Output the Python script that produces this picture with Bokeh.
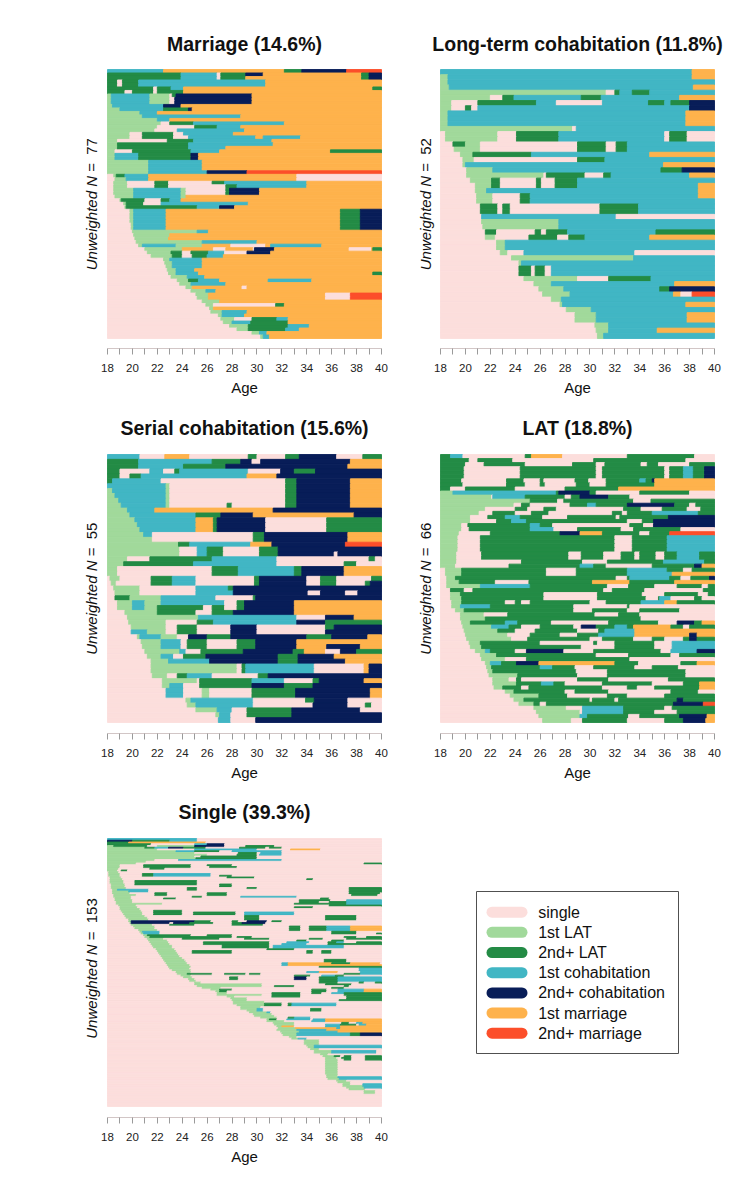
import math
from bokeh.plotting import figure
from bokeh.models import Range1d, FixedTicker, ColumnDataSource
from bokeh.layouts import row, column
from bokeh.embed import file_html
from bokeh.resources import INLINE
from bokeh.core.properties import value

# ---------------- states ----------------
STATE_CODES = ["s", "l", "L", "c", "C", "m", "M"]
STATE_LABELS = ["single", "1st LAT", "2nd+ LAT", "1st cohabitation",
                "2nd+ cohabitation", "1st marriage", "2nd+ marriage"]
STATE_COLORS = ["#FCDEDC", "#A1D99B", "#238B45", "#41B6C4",
                "#081D58", "#FEB24C", "#FC4E2A"]
AGE_MIN, AGE_MAX = 18, 40
AGE_MAJOR = list(range(18, 41, 2))
AGE_MINOR = list(range(19, 40, 2))

# each sequence: tokens "<state><start age>", state lasts until next token (or 40)
MARRIAGE = [
    "c18 m22.5 L32.2 C33.6 M37.2",
    "L18 c23.9 s26.8 L27.1 C29.1 m30.5 L38.4 C39",
    "L18 c23.9 s26.8 L27.1 m29.1 L38.4 C39",
    "L18 s18.8 L19.2 c20.5 m30.7",
    "L18 s18.8 L19.2 c20.5 m30.7",
    "L18 s21.7 L22 c23.1 m24.1 L39.3",
    "L18 s19.4 L20 s21.7 L22 m24.1",
    "l18 c18.3 l21.4 s23 L23.2 C23.5 m29.6",
    "l18 c18.3 l21.4 s23 C23.4 m29.6",
    "l18 c18.3 l21.4 s23 C23.4 m29.6",
    "l18 c18.4 C22.5 m23.9",
    "l18 c19 L22.5 C24.5 m24.8",
    "l18 c20.6 m22",
    "l18 c20.8 m28.7",
    "l18 c22 m23",
    "l18 s22.3 L23 c24.9 m32.2",
    "l18 s22 L25 c26.8 m28.7",
    "l18 s21.8 c23.6 m29",
    "l18 s19.8 L20.8 s23.3 c24.1 m28.1",
    "l18 s19.8 L20.8 s23.3 c24.5 m29.9 c30.5 m33.5",
    "l18 s18.8 L22.8 c24.9 m31.2",
    "l18 L18.8 c24.5 m31.3",
    "l18 L18.8 c24.5 m27.5",
    "l18 s18.6 L20 c24.7 m27 L35.9",
    "l18 c18.6 L20.5 C24.7 m25.3",
    "l18 c18.6 L20.5 C24.7 m25.3",
    "l18 c21.3 m25.6",
    "l18 c21.3 m25.6",
    "l18 c21.3 m25.6",
    "l18 c21.3 C26 M29.2",
    "s18 l18.5 L18.7 c19.4 m21.3 s33.2",
    "s18 l18.6 c19.5 m21.3 s33.2",
    "s18 l18.5 s19.6 L21.8 s22.9 L26.4 c27.4 m34",
    "s18 l18.5 s19.6 L21.8 s22.9 L27.5 c28.4 m34",
    "s18 l18.5 c20.1 l23.9 s24.3 L27.5 C27.8 m30.2",
    "s18 l18.5 c20.1 l23.9 s24.3 L27.5 C27.8 m30.2",
    "s18 l18.6 c20.1 l23.9 m24.3",
    "s18 l19 L19.1 s21 L22.3 c23 m23.9",
    "s18 l19.3 L19.5 s20.9 c22.3 m29.3",
    "s18 l19.4 L19.5 c25.2 C27 m28.2",
    "s18 l19.8 c20.1 m22.7 L36.7 C38.3",
    "s18 l19.8 c20.1 m22.7 L36.7 C38.3",
    "s18 l19.8 c20.1 m22.7 L36.7 C38.3",
    "s18 l19.8 c20.1 m22.7 L36.7 C38.3",
    "s18 l19.9 c20.1 m22.7 L36.7 C38.3",
    "s18 l19.9 c20.1 m22.7 L36.7 C38.3",
    "s18 l20 c25.2 m26.1",
    "s18 l20.1 m23",
    "s18 l20.2 m22.9",
    "s18 l20.3 c25.6 m30",
    "s18 l20.5 c20.8 l23.5 m25.6 s27.9 m30.7 c31.1 m35.2",
    "s18 l21 m24 s26.5 m27.5 s29.7 C29.8 m31.4 s37.4 m39.2 L39.3",
    "s18 l21.2 L23.1 s24 L24.7 c26.1 s27.4 C29.2 m31.1",
    "s18 l21.5 L23.2 s24 L24.8 c26 m27.3",
    "s18 l22.5 c23 m25.6",
    "s18 l22.6 c23.2 m25.6",
    "s18 l22.7 c23.2 m25.6",
    "s18 l22.8 c23.5 m25",
    "s18 l22.9 c23.5 m25.3 L39.3",
    "s18 l23.1 c24.4 m25.8",
    "s18 l23.6 L24.5 c25.3 m27 c30.9 m34.4",
    "s18 l23.8 c24.7 m27.5",
    "s18 l24.3 m24.8 s28.8 m29.2",
    "s18 l24.7 c25.9 m26.7",
    "s18 l25.1 m26.1 s35.5 M37.5",
    "s18 l25.2 m26.1 s35.5 M37.5",
    "s18 l25.6 m27",
    "s18 l25.9 s26.5 L31.5 m32.2",
    "s18 l26.2 m26.5",
    "s18 l26.3 c27.2 m29.2",
    "s18 l26.9 c27.2 m29",
    "s18 l27.1 s28.2 L29.6 c31.6 m32.5",
    "s18 l27.3 c28 L29.5 m32.5",
    "s18 l27.8 L29.3 c32.5 m34.2",
    "s18 l28.4 L29.3 c32.3 m33.4",
    "s18 l29.6 c30.2 m30.8",
    "s18 l30.3 c30.5 m31",
]

LONG_COHAB = [
    "c18 m38.2",
    "l18 c18.6 m38.2",
    "l18 c18.6",
    "l18 c18.7 m38.3",
    "l18 s31.3 L32 c32.4 L33.4 c34.8",
    "l18 s22 L23 c23.9 L29.3 c30.9 m37.2",
    "l18 s18.9 L21 c25.7 s27.3 c31 L34.7 c36 L36.5 C38",
    "l18 s18.9 L20 s20.5 c21 C38",
    "l18 c18.6 m37.7",
    "l18 c18.6 m37.7",
    "l18 c18.6 m37.7",
    "l18 s28.6 c28.9",
    "s18 l18.4 s22.6 L24.1 c27.5 s36 L36.4 s37.8",
    "s18 l18.4 s22.6 L24.1 c27.5 s36 L36.4 s37.8",
    "s18 L19 l20 s21.2 L29 s31.3 L32.1 c33",
    "s18 l19.1 s21.2 L29 s31.3 L32.1 c33",
    "s18 l19.6 L20.6 c25.3 m34.8",
    "s18 l19.8 s20.7 L29 c31.2",
    "s18 l19.8 c20 m35.9",
    "s18 l20.1 c22.2 L35.7 C37.4",
    "s18 l20.1 s26.3 L26.5 s29.6 L31.1 c31.7 m38",
    "s18 l20.4 L22.1 s22.8 L25.7 s26.1 L27.2 c29",
    "s18 l20.8 L22.1 s22.8 L25.7 s26.1 L27.2 c29 m38.7",
    "s18 l20.8 c21.7 m38.7",
    "s18 l20.9 s22.2 L24.4 c25.2 m38.7",
    "s18 l20.9 s22.2 L24.4 c25.2",
    "s18 L21.2 s22.6 L23 s23.6 L30.8 c33.9",
    "s18 L21.2 s22.6 L23 s23.6 L30.8 c33.9",
    "s18 c21.3 s32.1",
    "s18 l21.3 c27.5",
    "s18 l21.4 c27.5",
    "s18 L21.6 s22.5 L25.6 s26.1 L26.5 c28.2 L35.3",
    "s18 l21.6 s22.4 L25.1 s27.4 L28.3 c29.6 m34.8",
    "s18 l22.5 c23.2",
    "s18 l22.5 c23.2",
    "s18 l22.8 s23.4 c24.7 s33.6",
    "s18 l23.7 c33.5",
    "s18 l24.3 c24.5",
    "s18 L24.3 s25.3 L25.6 s26.4 c26.9",
    "s18 L24.3 s25.3 L25.6 s26.4 c26.9",
    "s18 l24.7 s29 L31.5 c34.9",
    "s18 l25.5 c26.9 m36.8",
    "s18 l25.9 c27.9 L35.6 C36.4",
    "s18 l26.2 c28.4 m36.7 s37.3 M38.2",
    "s18 l26.9 c27.7",
    "s18 l27.6 c27.8 m37.7",
    "s18 l28.1 c30.1",
    "s18 l28.8 c30.5 m37.8",
    "s18 l28.8 c30.5 m37.8",
    "s18 l30.4 c31.5",
    "s18 l30.5 c31.5 m35.4",
    "s18 l30.6 c31.1",
]

SERIAL_COHAB = [
    "c18 s20.6 m22.6 s24.6 L29.3 s30 L32.3 C33.4 s36.4 L38.5",
    "L18 c20.5 L26.4 C28.7 s29.6 C30.3 m37.5",
    "L18 c20.5 L24.1 C27.5 m37.3",
    "L18 s19 c21.4 s22.5 L23.4 c23.8 s29.3 C31.9 L33 C34.7",
    "L18 s19 L19.8 c20.7 m29.2 C31.6",
    "L18 c18.4 s22.3 L32.3 C33.2 m37.5",
    "c18 l22.7 s23 L32.3 C33.2 m37.5",
    "l18 c18.4 l22.7 s23 L32.3 C33.2 m37.5",
    "l18 c18.6 l22.7 s23 L32.3 C33.2 m37.5",
    "l18 c18.9 l22.7 s23 L32.3 C33.2 m37.5",
    "l18 c19.1 l22.7 s23 L27.6 s28 L32.3 C33.2 m37.5",
    "l18 c19.6 m21.8 C31.3",
    "l18 c19.8 L25.1 C27.1 m29.7 C37.8",
    "l18 c20.2 m25.1 L26.5 C26.8 s30.7 L35.6",
    "l18 c20.4 m25.1 L26.5 C26.8 s30.7 L35.6",
    "l18 c20.6 m25.1 L26.5 C26.8 s30.7 L35.6",
    "l18 c20.9 s21.6 L29.7 C30.6 m37.3",
    "l18 s21.6 L29.7 C30.6 m37.3",
    "l18 L23.7 c24.6 m29.5 C31.2 M37.1",
    "l18 s23.8 c25.2 L26 s27.3 L30.2 C31.7",
    "l18 s23.8 c25.2 L26 s27.3 L30.2 C31.7 s36.2 C36.5",
    "l18 s19.6 L21.4 c26.4 s31.6 L39 s39.5",
    "l18 L19.3 c24.9 s31.6 L37 s38",
    "l18 s18.8 L26.4 c28.5 L33 C33.6 m37",
    "l18 s18.8 L26.4 c28.5 L33 C33.6 m37",
    "s18 l18.2 s19 L21.5 c23.2 s25.1 L29.8 C30.2 s34 L35.1 s36.4 L39.2",
    "s18 l18.3 s18.7 L21.5 c23.2 s25.1 L29.8 C30.2 s34 L35.1 s36.4 L38.7 C39.1",
    "s18 l18.5 s20.6 c25.1 L27.7 C28.1",
    "s18 l18.6 s20.6 c25.1 C28.1 s34.1 C35.1 s37.1 C38.1",
    "s18 L18.6 l19.8 c22.3 s26.7 L29.7 C29.9",
    "s18 l18.8 c20 l21 c22.3 s27.4 L28.4 C29 m33",
    "s18 l18.8 c20 l21 L22 s25.7 L26.4 s27.4 L28.4 C29 m33",
    "s18 l19.4 L22 s25.1 L26.4 C28.1 m33",
    "s18 l19.6 c25.3 s33.2 C35.5 m37.8",
    "s18 l19.7 s22.7 L25.2 c26.5 C33.2 L35.5",
    "s18 l19.9 s22.7 L23.6 s25.2 C27.9 s30 L35.5 C36.2",
    "s18 c19.9 l21.2 s22.7 L23.6 s25.2 C27.9 s30 C35.5",
    "s18 l20.4 c20.6 l22.3 s23.6 C24.5 L26 C27.9 L34 C36 m38.9",
    "s18 l20.7 c22.3 s23.9 L24.4 s26 L28.4 C29.9 m33.2",
    "s18 l20.8 c22.3 s23.9 L24.4 s26 L28.4 C29.9 m33.2 C35.6 m38.3",
    "s18 l21 c23.8 s24.3 L25.5 C28.9 L32.9 m33.8 s35.5 C36.7 L38",
    "s18 l21.2 c22.3 s23.3 L24.1 C25.9 L31.7 C33.3 m36.2",
    "s18 l21.5 c22.9 C26.2 L31.7 C33.3 m37.1",
    "s18 l21.5 s28.4 L28.8 c29.1 s34.6 m38.6 C39",
    "s18 l21.5 s28.4 L28.8 c29.1 s34.6 m38.6 C39",
    "s18 l21.6 s22.8 L23.6 c24.4 s26.4 L30.1 C30.9",
    "s18 l22.4 s25.2 L25.4 c29.6 s32.2 L34.5 C35 m38.6",
    "s18 l22.4 c23 s24.1 L25.4 C29.6 L32.2 C34.5",
    "s18 c22.7 s24.1 l25.6 s26.2 L29.6 C33.1 m39.1",
    "s18 c22.7 s24.1 l25.6 s26.2 L29.6 C33.1 m39.1",
    "s18 l24.3 c24.7 s29.7 L33.9 C34.6 s37.3",
    "s18 l24.4 c25.1 s29.7 C34.5 s37.3 L38.7 s39.2",
    "s18 l25.1 c26.8 s28 L29.2 C32.8 s38.3",
    "s18 l26.7 c27 s27.9 L29.2 C32.8",
    "s18 c26.9 s27.9 C29.9",
]

LAT = [
    "L18 c18.8 s19.8 L24.8 m25.3 s27.8 L33 s38.4",
    "L18 s20.3 L21 s23.8 L30.3 s37.7",
    "L18 s20 L21.5 s24.8 L28.6 s30.5 L31.2 s34.1 L34.6 s35.5 L38",
    "L18 s19.9 L24.4 s30.5 L31 s36 L36.4 c37.5 L38.3 C39.2",
    "L18 s19.9 L24.4 s30.5 L31 s36 L36.4 c37.5 L38.3 C39.2",
    "L18 s19.9 L24.4 s30.5 L31 s36 L36.4 c37.5 L38.3 C39.2",
    "L18 s19.7 L23.3 s24.7 L26 s26.3 L28.8 s29.9 L31.3 c34 L34.5 C35 m35.2",
    "L18 s19.8 L23.3 s24.8 L26 s26.4 L28.9 s30 L31.3 m35.2",
    "L18 s18.8 L20 s24 L28 m32.3",
    "l18 c19 L27.3 C27.5 L30 s30.5 L34 s38",
    "l18 s22.1 c22.2 L24.8 s28 L28.5 C29.2 L31.5 s33.2",
    "l18 L25.2 s27.4 L27.9 s33.5 L34.9",
    "l18 s23.9 L24.5 s25.2 L28.4 c29.8 L30.5 C33 L36.8 s38 L38.5",
    "l18 s21.6 L24 s25 L26.3 s27.3 L32.7 s34.1 L35.8 s37.8 L38.9",
    "l18 s21.1 L22.2 s24 L25.3 s26.7 L31.8 s32.6 L33 c35 L38.7",
    "l18 s20.4 L21.8 c23.2 L24.4 s26.2 L28.2 s32.1 L32.4 C36.3",
    "l18 s20.4 L22.5 c23.7 L24.9 s33 L34.2 C35.1",
    "l18 s19.7 L20.2 c25.2 L26 s27 L33.2 s34.3 C35.1",
    "l18 s19.7 L20.3 c25.2 s27.1 L29 s32.5 L33.5 s37.3",
    "l18 s19.5 L22 C27.6 m29.2 L31 s34 L34.8 M36.4",
    "l18 s19.4 L21.2 s32 L33.4 c36.2",
    "l18 s19.4 L21.2 s32 L33.4 c36.2",
    "l18 s19.4 L21.2 s32 L33.4 c36.2",
    "l18 s19.4 L21.2 s32 L33.4 c36.2",
    "l18 s19.3 L21.3 s28.3 L29.3 s31.1 L32.5 s33.6 L34 s35.3 L36 c37 L38.8",
    "l18 s19.3 L21.3 s28.3 L29.3 s31.1 L32.5 s33.6 L34 s35.3 L36 c37 L38.8",
    "l18 s19.3 L24.5 s29.4 L31.4 c35.9 L39.2",
    "l18 s19.2 L23.5 c29.2 L30.3 s31.3 L35 C38.4 m39",
    "s18 l18.4 L19.7 s26.5 L28.9 c33 L36.2 s37.5 L38.2",
    "s18 l18.4 L19.7 s26.5 L28.9 c33 m36.6",
    "s18 l18.5 L19.2 s32.1 L33 c33.2 L36.4 s37.3 L38.1 C39.6",
    "s18 l18.5 L19.5 s22.4 L25.1 m30.2 L33.2 m36.8",
    "s18 l18.5 c21.2 L25.2 s31.4 L33.1 s35.2 L37 s39 L39.5",
    "s18 L18.8 s19.9 L20.6 s31.1 L31.8 s34.4 L39.1",
    "s18 l18.8 L19.6 s26.3 L30.6 s34.2 L36 s38.7 L39.5",
    "s18 l18.8 L19.7 s26.3 L30.6 s34.5 L35.5 c35.6 s36.5 L38.4 s39",
    "s18 l18.9 L19.7 s23.2 L24 s24.5 L25.2 s30 L31.3 c34.1 m36 L37",
    "s18 l18.9 c19.6 L22 s28.7 L33 s33.2",
    "s18 l19.2 L19.9 s28.7 L30.2 s33 L34 s37.2",
    "s18 l19.6 s21.5 L23.4 s30.4 L32.3 s34",
    "s18 l19.6 L21.6 s34.1",
    "s18 l19.7 L20.4 c23.2 L24.2 s26.9 L31.5 s35.5 C37 L38.4 m39",
    "s18 l19.8 c22.1 L23.5 s24.5 L26 s28.7 C29.3 L30.5 c32 L33 m33.5 L36.5 s37.5 L38",
    "s18 l19.9 L22.6 s24 L25.6 s29 L30.7 c31.2 m33.6",
    "s18 l20 s23.4 L25.2 s27.6 L29 c30.7 m33.6 C38 m38.6",
    "s18 l20.1 s23.7 L25 s30 L31 s33.5 L35 s36 L37.5 C38 L38.6",
    "s18 l20.3 L21.2 s26 L30.3 s30.6 L32 s35.2 c36.6",
    "s18 l20.4 L21.3 s29.3 L32 s35.2 c36.6",
    "s18 l20.8 c21.6 L22 s24 C24.9 s27.9 L30.3 s35.7 c36.5 C38.6",
    "s18 l21.2 L22.5 s30.5 L33.1 s36.5 L37.2",
    "s18 l21.3 s23.2 L24.9 s33.2",
    "s18 l21.6 c22 L22.9 C24.1 m25.9 L32 s33.9 L37.3 m38.6",
    "s18 l21.7 L22.1 c26 L27 s28.8 L30.3 s33.6 L35 s37.1",
    "s18 l21.8 L22.2 s28.9 L31.4 s37.7",
    "s18 l21.9 L24.2 s29 L31.4 s37.7",
    "s18 l22.2 s23.5 L24.1 s24.5 L29 s31.5 L36.3",
    "s18 l22.2 L24.1 c26.1 L27.1 s28 L31 s35 L37.5 m38.8",
    "s18 l22.3 L23 s24.5 L25.1 s31 L33 s33.8 L35.2 m38.8",
    "s18 l23.2 L23.9 s28 L28.8 s31.5 L36.5 s38.7",
    "s18 l23.6 L25.9 s28.2 L31.4 s33 L36",
    "s18 l23.9 L24.7 s30 L30.2 s32 L32.3 C37 L37.5",
    "s18 l24.3 L25.5 s26 L26.5 C36.7 M39.1",
    "s18 l25.5 s28.1 c29.4 L32.7 s36 L36.6",
    "s18 l25.7 s29.2 c29.4 L32.7 s35.2 L37",
    "s18 l25.9 c29.2 L29.8 s33.1 L34 C37.2 m39.4",
    "s18 l26.2 s28.5 L29.4 s33 L36 C37.5 m39.3",
]

SINGLE = [
    "c18 s25.2",
    "C18 L20 c23 s25.2",
    "L18 m19.7 s25.9",
    "L18 s21.5 c25 C26 s27.4",
    "l18 L18.5 s21.2 l22 C25 s27.4 L29.1 s31.4",
    "l18 L21 c21.8 C22.9 L24.1 s25.9 L28.6 s30.7 L31 s32",
    "l18 s22 c25 s30 m32.7 s35.1",
    "l18 c23.5 L25 s27 c28 s32",
    "l18 s25 L28.5 s30 c30.3 s32",
    "l18 s26 L28.4 s30 c30.2 s32",
    "l18 s25 L25.5 s30",
    "l18 L25.1 s30",
    "l18 s21.8 c23.7 s32",
    "l18 s21.1",
    "l18 s20.3 L38.6",
    "l18 s19 L20.9 s24.7 L26 s28",
    "l18 s19 L20.9 s24.7 L26.2 s28.4",
    "l18 s18.9 L21.4 s22.6",
    "l18 s18.8 L19.1 s19.6",
    "s18 l18.1 s18.9",
    "s18 l18.1 s19 L20.8 c21.7 s26.3",
    "s18 l18.1 s19 L20.8 c21.7 s26.3 L27 s28",
    "s18 l18.2 s19.1 L27.6 s29.8",
    "s18 l18.2 s19.2 L34 s34.5",
    "s18 l18.2 s19.3 L20.2 s25.2",
    "s18 l18.2 s19.3 L20.2 s25.2",
    "s18 l18.3 s19.4 L20.2 s25.2 L27 s28",
    "s18 l18.3 s19.4 L27 s28",
    "s18 l18.3 s19.5 L24.4 s25.2 L29.2 s30 L37.4",
    "s18 l18.4 c18.8 s21.3 L24.4 s25.2 L37.4",
    "s18 l18.4 c19.7 s21.3 L37.4",
    "s18 l18.4 s19.8 L21.8 s22.8 L26 s27.6 L37.4 s39.9",
    "s18 l18.5 s20.3 L21.8 s22.8 L26 s27.6 L37.6 s39.7",
    "s18 l18.5 s19.9 L24.8 s25.6 c28.7 s33.2",
    "s18 l18.6 s19.9 L22.5 s23.5 L35.1 s35.8",
    "s18 l18.6 s20 L33.4 s35.9 c37.2",
    "s18 l18.7 s20 L33.4 s35 L35.8 c37.2",
    "s18 l18.7 s22.4 L33 c37.2",
    "s18 l18.9 s20.3 L35.8",
    "s18 l19 s20.4 L33 s34.5",
    "s18 l19 s20.6",
    "s18 l19.1 s20.7 L21.7 s24",
    "s18 l19.2 s20.8 L21.7 s24 L24.9 s28.3 c29 s33",
    "s18 l19.3 s20.8 L21.7 s24 L24.9 s28.3 c29 s33",
    "s18 l19.4 s21 L29 s30.2 L35.5 s38",
    "s18 l19.5 s21.2 L29 s30.2 L35.5 s38",
    "s18 l19.7 s21.3 L29 s30.2 L35.5 s38",
    "s18 l19.7 C19.9 L25 s26.3 L28 s28.5 C29.2 s30.8 L31.2 s32",
    "s18 l19.8 C19.9 s23 C23.3 L24.6 s26.5 L28 C28.8 s30.7",
    "s18 l19.9 s21.6 L23 s25 L28 s30.5",
    "s18 l20.1 s21.8 L32.6 s33.5 L34.2 c35.6 m37.5",
    "s18 l20.2 s21.8 L32.6 s33.5 L34.2 c35.6 m37.5",
    "s18 l20.5 s22 L32.6 s33.5 L34.2 c35.6 m37.5",
    "s18 l20.6 c20.8 s22.2 L36 s38",
    "s18 l20.7 c20.9 s22.2 L36 s38 L39.6",
    "s18 l20.9 L21.2 s24.7 L26 s28",
    "s18 l21 L21.4 s28 L28.4 s29.6 L37 s38 L38.8",
    "s18 l21.2 s22.5 L24 s27 L29 s31 L34.2 s35.3 L37.2",
    "s18 l21.3 s22.8 L33.2 s34 L36 s37",
    "s18 l21.4 s22.9 L25.7 s31 c32.4 s34.2 L35.7 c36.4 s37 L38",
    "s18 l21.5 s23 L25.7 s31 c32 s34 L35.7",
    "s18 l21.6 s23.2 L27.2 s31 c31.3 s37",
    "s18 l21.7 s23.2 L27.2 s31 c31.3 s37",
    "s18 l21.9 s23.4 L30.8 s33",
    "s18 l22 s23.5 L24.8 s28 L34 s34.5 L35.2 s36",
    "s18 l22.1 s23.6 L24.8 s28 L34 s34.5 L35.2 s36",
    "s18 l22.2 s23.7",
    "s18 l22.3 s23.8",
    "s18 l22.4 s24",
    "s18 l22.5 s24.2 L35.4 s37.2",
    "s18 l22.6 s24.3 L35.4 s37.2",
    "s18 l22.7 s24.4 c32 m32.5 L36 m37.5 s39.9",
    "s18 l22.8 s24.6 c32 m32.5",
    "s18 l22.9 s24.7 L35",
    "s18 l23 s24.6 c38.2",
    "s18 l23.2 s24.7 c38.2",
    "s18 l23.5 s24.7 c34 m35 s36.5 c38.3",
    "s18 l23.6 L24.4 s26.4 L27.4 s29.1 L29.4 s30.3 L37 c38.3",
    "s18 l23.9 s24.7 L33 s34.3 c35.2 L36.3 s37",
    "s18 l24.1 s24.8 L27.8 s28.5 C33 s34 L35 c36.5",
    "s18 l24.5 s25 L27.8 s28.5 C33 s34 L35 c36.5",
    "s18 l24.6 s25.1 L35 c36.5",
    "s18 l25 s25.5 L35 s36.5 L38.2 s38.6 L39.5",
    "s18 l25 s30.4 L35.5 s37.6",
    "s18 l25.2 s30.4 L31.4 s33 L37 s37.4",
    "s18 l25.6 s27.1 L36 s37",
    "s18 l26.3 L27 s28 L34.4 s35.6 c36.5 m38.6",
    "s18 l26.7 L27 s27.6 L34.4 s35.6 c36.5 m38.6",
    "s18 l26.8 s27.6 L31.2 s33.5 L34.4 s35.2 c36 L37",
    "s18 l26.8 s30.4 L31.2 s33.5 L37",
    "s18 l27.6 s28.2 L31.2 s33.5 L37.2",
    "s18 l27.9 s29.2 L37.2",
    "s18 l28 s29.2 L36.6",
    "s18 l28.1 s30.6",
    "s18 l28.1 L30.6 s32 L32.5 c32.8 s36.4",
    "s18 l28.4 L30.6 s32 L32.5 c32.8 s36.4",
    "s18 l28.7 s30.3",
    "s18 l28.7 c30 s30.5 L34.3 s35.2",
    "s18 l29.2 c30 s30.5 L34.3 s35.2",
    "s18 l29.4 c30.8 s31.1",
    "s18 l29.7 s31.2",
    "s18 l29.8 s31.4",
    "s18 l30.3 s31.6 L32.5 c33 s34.3",
    "s18 l30.8 L31 s31.6 c32.4 s34.3 c34.5 m35.5",
    "s18 l30.8 s32.2 c34.4 m35.5",
    "s18 l31.3 s33 L36.8 s37.4 c38 m38.5",
    "s18 l31.4 s33 c35.5 L36.7 s38 c38.2 m38.8",
    "s18 l31.6 m32 s33 c35.5 m36.7",
    "s18 l31.7 m33.1 c36.4 m36.7",
    "s18 l31.6 c33.2 m35.6",
    "s18 l31.9 c33.4 m36.5",
    "s18 l32 c33.2 L37.5 C38.3",
    "s18 l32.1 c33.2 L37.5 C38.3",
    "s18 l32.6 s33.2",
    "s18 l32.8 c33.3 s34",
    "s18 l33.8 s35",
    "s18 l33.8 s35",
    "s18 l33.8 s35",
    "s18 l34 c34.6",
    "s18 l34.1 c34.6",
    "s18 l34.3 s35",
    "s18 l34.6 c36 s39.6",
    "s18 l34.6 c36 s39.6",
    "s18 l35.1 s35.7",
    "s18 l35.3 L36.2 s36.7 L37 s37.6 L38.7",
    "s18 l35.5 s36.4 L36.8 s37.6 L38.7",
    "s18 l35.5 s36.5 L37 s37.6 L38.7",
    "s18 l35.5 s36.5",
    "s18 l35.5 s36.5",
    "s18 l35.5 s36.5",
    "s18 l35.5 s36.5",
    "s18 l35.5 s36.5",
    "s18 l35.5 s36.5",
    "s18 l35.5 s36.5",
    "s18 l35.5 s36.5",
    "s18 l35.6 s36.5",
    "s18 l35.6 c36.5",
    "s18 l35.7 c36.6",
    "s18 l36.4 s37.2",
    "s18 l36.5 s37.5",
    "s18 l36.9 s37.5 c38.5",
    "s18 l36.9 c38.5",
    "s18 l37.2 c38.6",
    "s18 l37.4 s38.7",
    "s18 l38.6 s39.5",
    "s18 l38.6 s39.5",
    "s18",
    "s18",
    "s18",
    "s18",
    "s18",
    "s18",
    "s18",
]

PANEL_TITLES = ["Marriage (14.6%)", "Long-term cohabitation (11.8%)",
                "Serial cohabitation (15.6%)", "LAT (18.8%)", "Single (39.3%)"]
PANEL_SEQS = [MARRIAGE, LONG_COHAB, SERIAL_COHAB, LAT, SINGLE]

# ---------------- layout constants (page pixels) ----------------
FONT = "Liberation Sans"
AXIS_SPACE = 58
NBSP = "\u00a0"
# x0: figure left, f0/f1: frame left/right, d0/d1: pixel of age 18/40, lab: y-label centre
COLS = [dict(x0=0, f0=80, f1=408, d0=107, d1=381, lab=91),
        dict(x0=408, f0=408, f1=746, d0=440, d1=714, lab=425)]
# ft: frame top, dt/db: data top/bottom, fb: axis line, title: title centre
ROWS = [dict(ft=0, dt=69, db=338, fb=348, title=43),
        dict(ft=406, dt=454, db=722, fb=733, title=427),
        dict(ft=791, dt=838, db=1106, fb=1117, title=811)]
COLOR_OF = dict(zip(STATE_CODES, STATE_COLORS))


def build_source(seqs):
    n = len(seqs)
    d = dict(left=[], right=[], top=[], bottom=[], color=[])
    for i, seq in enumerate(seqs):
        toks = seq.split()
        states = [t[0] for t in toks]
        starts = [float(t[1:]) for t in toks]
        ends = starts[1:] + [AGE_MAX]
        for st, a, b in zip(states, starts, ends):
            if b > a:
                d["left"].append(a)
                d["right"].append(b)
                d["top"].append(n - i)
                d["bottom"].append(n - i - 1)
                d["color"].append(COLOR_OF[st])
    return ColumnDataSource(d)


def base_figure(col, rw, x_range, y_range):
    p = figure(frame_width=col["f1"] - col["f0"], frame_height=rw["fb"] - rw["ft"],
               x_range=x_range, y_range=y_range,
               min_border_left=col["f0"] - col["x0"], min_border_right=0,
               min_border_top=0, min_border_bottom=AXIS_SPACE,
               y_axis_location=None,
               output_backend="svg", toolbar_location=None)
    p.xgrid.visible = False
    p.ygrid.visible = False
    p.outline_line_color = None
    p.background_fill_color = "white"
    p.border_fill_color = "white"
    return p


def make_panel(title, seqs, col, rw):
    n = len(seqs)
    xpp = (AGE_MAX - AGE_MIN) / (col["d1"] - col["d0"])
    upp = n / (rw["db"] - rw["dt"])
    x_range = Range1d(AGE_MIN - (col["d0"] - col["f0"]) * xpp,
                      AGE_MAX + (col["f1"] - col["d1"]) * xpp)
    y_range = Range1d(-(rw["fb"] - rw["db"]) * upp,
                      n + (rw["dt"] - rw["ft"]) * upp)
    p = base_figure(col, rw, x_range, y_range)
    p.quad(left="left", right="right", top="top", bottom="bottom",
           fill_color="color", line_color="color", line_width=0.9,
           source=build_source(seqs))

    ax = p.xaxis[0]
    ax.bounds = (AGE_MIN, AGE_MAX)
    ax.ticker = FixedTicker(ticks=AGE_MAJOR, minor_ticks=AGE_MINOR)
    ax.axis_line_color = "#D2C6C6"
    ax.major_tick_line_color = "#9A9A9A"
    ax.minor_tick_line_color = "#9A9A9A"
    ax.major_tick_in = 0
    ax.major_tick_out = 6
    ax.minor_tick_in = 0
    ax.minor_tick_out = 6
    ax.major_label_standoff = 9
    ax.major_label_text_font = FONT
    ax.major_label_text_font_size = "11.5px"
    ax.major_label_text_color = "#222222"
    ax.axis_label = "Age"
    ax.axis_label_text_font = FONT
    ax.axis_label_text_font_size = "15px"
    ax.axis_label_text_font_style = "normal"
    ax.axis_label_text_color = "#111111"
    ax.axis_label_standoff = 4

    # panel title
    p.text(x=[(AGE_MIN + AGE_MAX) / 2], y=[n + (rw["dt"] - rw["title"]) * upp],
           text=[title], text_align="center", text_baseline="middle",
           text_font=value(FONT), text_font_size="19.5px",
           text_font_style="bold", text_color="#111111")
    # rotated y label: italic part + upright part
    lx = AGE_MIN - (col["d0"] - col["lab"]) * xpp
    jy = n / 2 + 28 * upp
    p.text(x=[lx], y=[jy], text=["Unweighted N"], angle=math.pi / 2,
           text_align="right", text_baseline="middle",
           text_font=value(FONT), text_font_size="15px",
           text_font_style="italic", text_color="#111111")
    p.text(x=[lx], y=[jy], text=[NBSP + "=" + NBSP + NBSP + str(n)],
           angle=math.pi / 2, text_align="left", text_baseline="middle",
           text_font=value(FONT), text_font_size="15px",
           text_color="#111111")
    return p


def make_legend(col, rw):
    # data coordinates = page pixels (y downward)
    p = base_figure(col, rw, Range1d(col["f0"], col["f1"]), Range1d(rw["fb"], rw["ft"]))
    p.xaxis.visible = False
    p.quad(left=[476], right=[678], top=[891], bottom=[1053],
           fill_color="white", line_color="#505050", line_width=1)
    k = len(STATE_LABELS)
    ys = [911.7 + 20.17 * j for j in range(k)]
    p.segment(x0=[491.5] * k, y0=ys, x1=[521.5] * k, y1=ys,
              line_color=STATE_COLORS, line_width=11, line_cap="round")
    p.text(x=[537.7] * k, y=ys, text=STATE_LABELS,
           text_font=value(FONT), text_font_size="16px",
           text_baseline="middle", text_align="left", text_color="#111111")
    return p


p1 = make_panel(PANEL_TITLES[0], PANEL_SEQS[0], COLS[0], ROWS[0])
p2 = make_panel(PANEL_TITLES[1], PANEL_SEQS[1], COLS[1], ROWS[0])
p3 = make_panel(PANEL_TITLES[2], PANEL_SEQS[2], COLS[0], ROWS[1])
p4 = make_panel(PANEL_TITLES[3], PANEL_SEQS[3], COLS[1], ROWS[1])
p5 = make_panel(PANEL_TITLES[4], PANEL_SEQS[4], COLS[0], ROWS[2])
p6 = make_legend(COLS[1], ROWS[2])

layout = column(row(p1, p2), row(p3, p4), row(p5, p6))
open("out.html", "w").write(file_html(layout, INLINE))
